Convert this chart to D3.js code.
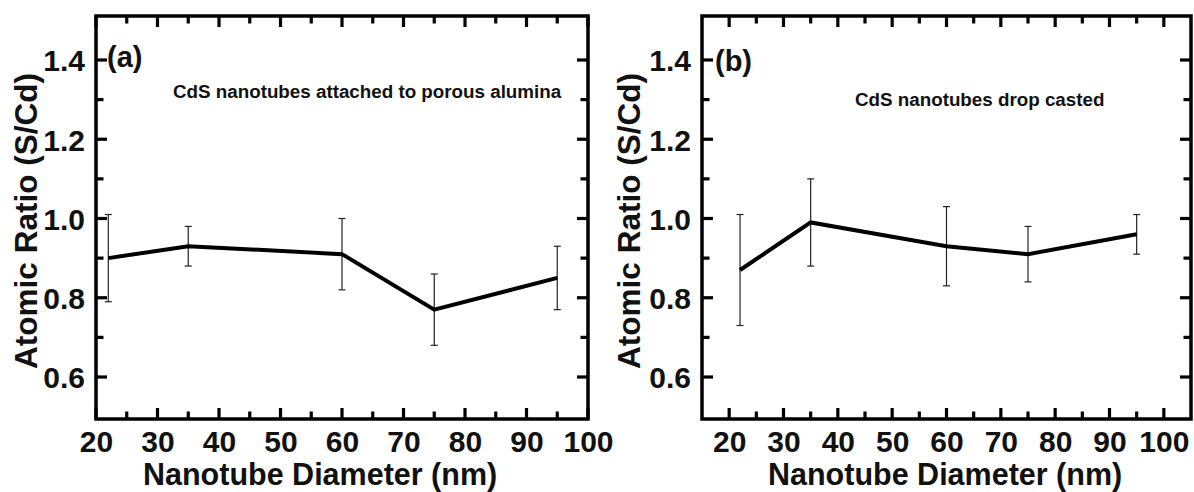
<!DOCTYPE html>
<html>
<head>
<meta charset="utf-8">
<script src="https://cdn.jsdelivr.net/npm/d3@7"></script>
<style>
  html, body { margin: 0; padding: 0; background: #fff; }
  svg { display: block; }
  text { font-family: "Liberation Sans", Arial, sans-serif; fill: #111; font-weight: bold; }
</style>
</head>
<body>
<svg id="chart" width="1194" height="492"></svg>
<script>
// Nanotube diameters (nm) and measured S/Cd atomic ratios with error bars
const diameters = [22, 35, 60, 75, 95];
const ratioA = [0.90, 0.93, 0.91, 0.77, 0.85];
const errA   = [0.11, 0.05, 0.09, 0.09, 0.08];
const ratioB = [0.87, 0.99, 0.93, 0.91, 0.96];
const errB   = [0.14, 0.11, 0.10, 0.07, 0.05];

const xMajorTicks = [20, 30, 40, 50, 60, 70, 80, 90, 100];
const xMinorTicks = [25, 35, 45, 55, 65, 75, 85, 95];
const yMajorTicks = [0.6, 0.8, 1.0, 1.2, 1.4];
const yMinorTicks = [0.7, 0.9, 1.1, 1.3];

const yTitle = "Atomic Ratio (S/Cd)";
const xTitle = "Nanotube Diameter (nm)";

const svg = d3.select("#chart");

const panels = [
  { label: "(a)", note: "CdS nanotubes attached to porous alumina",
    values: ratioA, errors: errA,
    xDomain: [20, 100], xRange: [96, 588],
    yTitleX: 37, xTitleX: 143, noteX: 173, noteY: 98, labelX: 107, labelY: 67 },
  { label: "(b)", note: "CdS nanotubes drop casted",
    values: ratioB, errors: errB,
    xDomain: [15, 105], xRange: [702, 1191],
    yTitleX: 640, xTitleX: 768, noteX: 855, noteY: 106, labelX: 715, labelY: 71 }
];

const yRange = [419, 16];
const yDomain = [0.494, 1.511];
const MAJOR = 11, MINOR = 7.5, TICK_W = 3.2;

panels.forEach(p => {
  const x = d3.scaleLinear().domain(p.xDomain).range(p.xRange);
  const y = d3.scaleLinear().domain(yDomain).range(yRange);
  const g = svg.append("g");
  const [x0, x1] = p.xRange;
  const [yb, yt] = yRange;

  // tick labels through d3 axes
  const bottom = g.append("g").attr("transform", `translate(0,${yb})`)
    .call(d3.axisBottom(x).tickValues(xMajorTicks).tickSize(0).tickPadding(12).tickFormat(d3.format("d")));
  bottom.select(".domain").remove();
  bottom.selectAll("text").attr("font-size", 30).attr("dy", "0.71em");

  const left = g.append("g").attr("transform", `translate(${x0},0)`)
    .call(d3.axisLeft(y).tickValues(yMajorTicks).tickSize(0).tickPadding(11).tickFormat(d3.format(".1f")));
  left.select(".domain").remove();
  left.selectAll("text").attr("font-size", 30).attr("dy", "0.36em");

  // frame
  g.append("path")
    .attr("d", `M${x0},${yt}H${x1}V${yb}H${x0}Z`)
    .attr("fill", "none").attr("stroke", "#000").attr("stroke-width", 3.5);

  // inward tick marks on all four sides
  const xt = xMajorTicks.map(v => [v, MAJOR]).concat(xMinorTicks.map(v => [v, MINOR]));
  const yticks = yMajorTicks.map(v => [v, MAJOR]).concat(yMinorTicks.map(v => [v, MINOR]));
  const tickG = g.append("g").attr("fill", "#000");
  const h = TICK_W / 2;
  xt.forEach(([v, len]) => {
    tickG.append("rect").attr("x", x(v) - h).attr("y", yb - len).attr("width", TICK_W).attr("height", len);
    tickG.append("rect").attr("x", x(v) - h).attr("y", yt).attr("width", TICK_W).attr("height", len);
  });
  yticks.forEach(([v, len]) => {
    tickG.append("rect").attr("x", x0).attr("y", y(v) - h).attr("width", len).attr("height", TICK_W);
    tickG.append("rect").attr("x", x1 - len).attr("y", y(v) - h).attr("width", len).attr("height", TICK_W);
  });

  // error bars
  const eb = g.append("g").attr("stroke", "#222").attr("stroke-width", 1.2);
  diameters.forEach((d, i) => {
    const cx = x(d), hi = y(p.values[i] + p.errors[i]), lo = y(p.values[i] - p.errors[i]);
    eb.append("line").attr("x1", cx).attr("x2", cx).attr("y1", hi).attr("y2", lo);
    eb.append("line").attr("x1", cx - 3.5).attr("x2", cx + 3.5).attr("y1", hi).attr("y2", hi);
    eb.append("line").attr("x1", cx - 3.5).attr("x2", cx + 3.5).attr("y1", lo).attr("y2", lo);
  });

  // data line
  const line = d3.line().x((d, i) => x(diameters[i])).y(d => y(d));
  g.append("path").datum(p.values)
    .attr("d", line)
    .attr("fill", "none").attr("stroke", "#000")
    .attr("stroke-width", 4).attr("stroke-linejoin", "miter");

  // axis titles
  g.append("text")
    .attr("transform", `translate(${p.yTitleX},221) rotate(-90)`)
    .attr("text-anchor", "middle")
    .attr("font-size", 31.5)
    .text(yTitle);
  g.append("text")
    .attr("x", p.xTitleX).attr("y", 485)
    .attr("font-size", 30.5)
    .text(xTitle);

  // panel label and note
  g.append("text")
    .attr("x", p.labelX).attr("y", p.labelY)
    .attr("font-size", 29)
    .text(p.label);
  g.append("text")
    .attr("x", p.noteX).attr("y", p.noteY)
    .attr("font-size", 18.8)
    .text(p.note);
});
</script>
</body>
</html>
